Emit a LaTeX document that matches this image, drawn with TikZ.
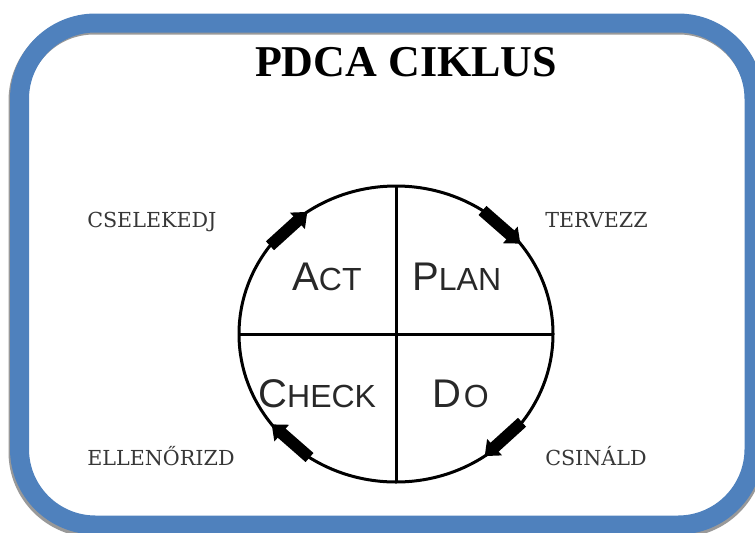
\documentclass[tikz,border=0pt]{standalone}
\usepackage{fontspec}
\setmainfont{Liberation Serif}
\setsansfont{Liberation Sans}
\newfontfamily\sidefont{DejaVu Serif}
\usetikzlibrary{arrows.meta,shapes.geometric}

\definecolor{frameblue}{RGB}{79,129,189}
\definecolor{quadtext}{RGB}{40,40,40}
\definecolor{sidetext}{RGB}{55,55,55}

\tikzset{
	quad/.style={anchor=base west, inner sep=0pt, text=quadtext, font=\sffamily},
	sidelbl/.style={anchor=base west, inner sep=0pt, text=sidetext, font=\sidefont\fontsize{15.5}{18}\selectfont},
	cyclearrow/.style={line width=9pt, -{Triangle[length=10pt,width=16pt]}},
}

% first letter big, the rest in small capitals
\newcommand{\quadword}[2]{{\fontsize{30}{34}\selectfont #1}{\fontsize{24}{28}\selectfont #2}}

\begin{document}
\begin{tikzpicture}[x=0.75pt,y=0.75pt,yscale=-1,xscale=1]
	\useasboundingbox (0,0) rectangle (755,532);
	\clip (0,0) rectangle (755,532);

	%Frame
	\draw [black!40, line width=14.25pt, rounded corners=57pt] (18,25) rectangle (755,528);
	\draw [frameblue, line width=14.25pt, rounded corners=57pt] (19.5,23) rectangle (754,525);

	% Title
	\draw (406,76) node [anchor=base, inner sep=0pt, font=\bfseries\fontsize{33}{38}\selectfont] (title) {PDCA CIKLUS};

	%Circle
	\node [draw, ellipse, minimum width=235.5pt, minimum height=222pt, inner sep=0pt, outer sep=0pt, line width=2.25pt] (cyc) at (396,334) {};
	\draw [line width=2.25pt] (cyc.north) -- (cyc.south) (cyc.west) -- (cyc.east);

	% Quadrant labels
	\node [quad] (act) at (292,290) {\quadword{A}{CT}};
	\node [quad] (plan) at (412,290) {\quadword{P}{LAN}};
	\node [quad] (check) at (258,407) {\quadword{C}{HECK}};
	\node [quad] (do) at (432,407) {\quadword{D}{\kern2pt O}};

	% Side labels
	\node [sidelbl] (cselekedj) at (87,227) {CSELEKEDJ};
	\node [sidelbl] (tervezz) at (545,227) {TERVEZZ};
	\node [sidelbl] (ellenorizd) at (87,465) {ELLENŐRIZD};
	\node [sidelbl] (csinald) at (545,465) {CSINÁLD};

	%Arrows
	\draw [cyclearrow] (cyc.145) -- (cyc.126);
	\draw [cyclearrow] (cyc.55) -- (cyc.36);
	\draw [cyclearrow] (cyc.-35) -- (cyc.-54);
	\draw [cyclearrow] (cyc.-125) -- (cyc.-144);

\end{tikzpicture}
\end{document}
